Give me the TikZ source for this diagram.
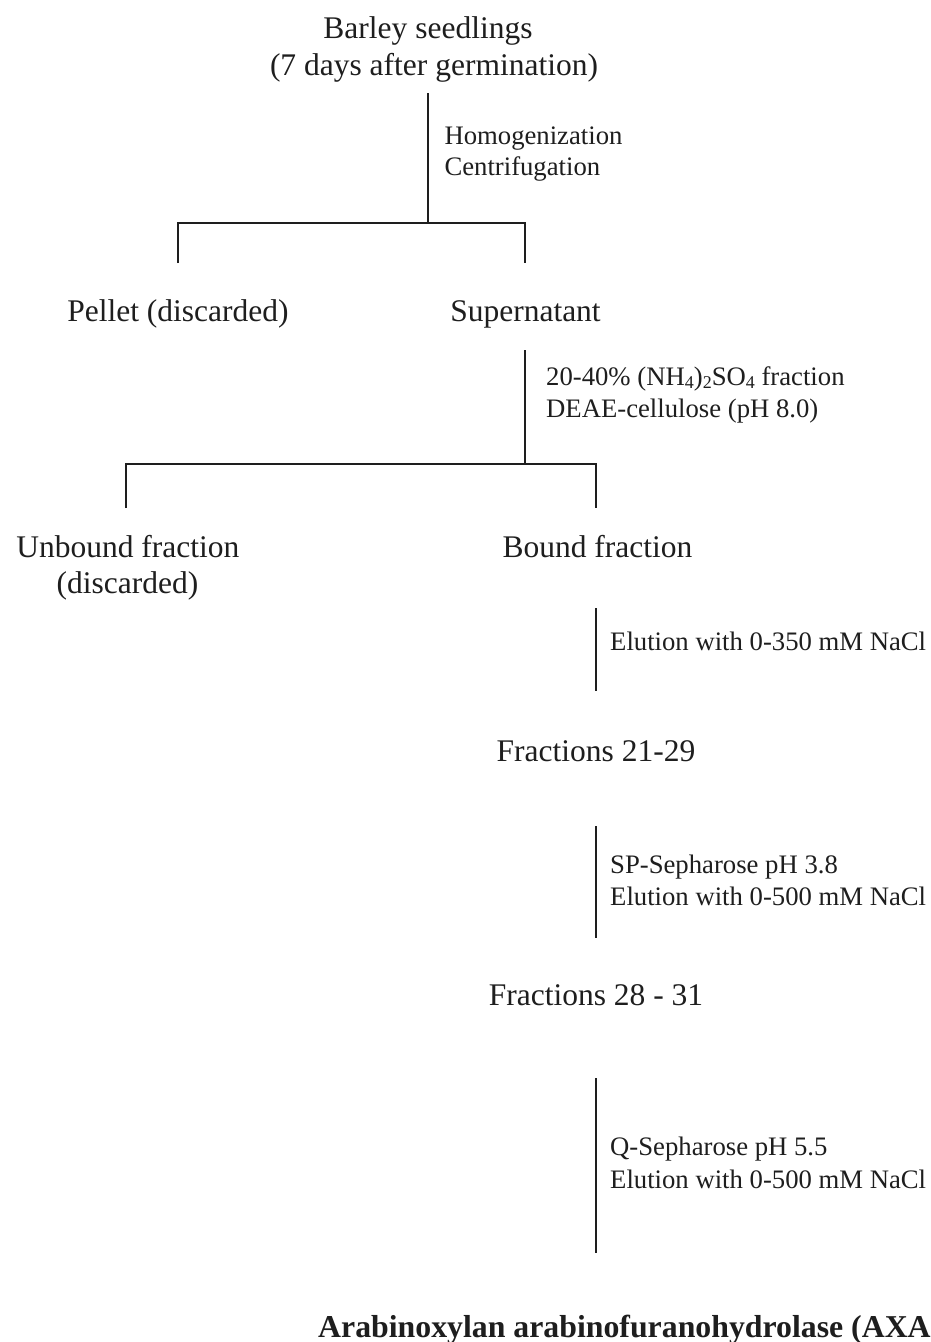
\documentclass[tikz,border=0pt]{standalone}
\usepackage{fontspec}
\setmainfont{Liberation Serif}
\definecolor{ink}{HTML}{1E1E1E}
\newcommand{\lowsub}[1]{\raisebox{-0.32ex}{\fontsize{18}{18}\selectfont #1}}
\tikzset{
  big/.style={font=\fontsize{31.5}{37}\selectfont, inner sep=0pt, anchor=base, text=ink},
  small/.style={font=\fontsize{26.7}{31.5}\selectfont, inner sep=0pt, anchor=base west, text=ink},
  title/.style={font=\fontsize{31.8}{37}\selectfont\bfseries, inner sep=0pt, anchor=base west, text=ink},
  link/.style={line width=2pt, draw=ink, line join=miter}
}
\begin{document}
\begin{tikzpicture}[x=1pt,y=-1pt]
\useasboundingbox (0,0) rectangle (930,1342);
\clip (0,0) rectangle (930,1342);
\fill[white] (0,0) rectangle (930,1342);

% top
\node[big] (barley) at (428,38.3) {Barley seedlings};
\node[big] (days) at (434,75) {(7 days after germination)};
\coordinate (t0) at (428,93);
\coordinate (b1) at (428,222.7);
\coordinate (b1l) at (178,222.7);
\coordinate (b1r) at (525,222.7);
\coordinate (d1l) at (178,263);
\coordinate (d1r) at (525,263);
\draw[link] (t0) -- (b1);
\draw[link] (d1l) -- (b1l) -- (b1r) -- (d1r);
\node[small] (homog) at (444.3,144) {Homogenization};
\node[small] (centr) at (444.3,175) {Centrifugation};

\node[big] (pellet) at (178,321.7) {Pellet (discarded)};
\node[big] (super) at (525.5,321.7) {Supernatant};

% second split
\coordinate (t1) at (525,350);
\coordinate (b2) at (525,464);
\coordinate (b2l) at (126.3,464);
\coordinate (b2r) at (595.5,464);
\coordinate (d2l) at (126.3,508);
\coordinate (d2r) at (595.5,508);
\draw[link] (t1) -- (b2);
\draw[link] (d2l) -- (b2l) -- (b2r) -- (d2r);
\node[small] (amm) at (546,385) {20-40\% (NH\lowsub{4})\lowsub{2}SO\lowsub{4} fraction};
\node[small] (deae) at (546,417.7) {DEAE-cellulose (pH 8.0)};

\node[big] (unb) at (127.8,557.3) {Unbound fraction};
\node[big] (disc) at (127.5,593.3) {(discarded)};
\node[big] (bound) at (597.5,557.3) {Bound fraction};

% elution 1
\coordinate (s1a) at (595.5,608);
\coordinate (s1b) at (595.5,691);
\draw[link] (s1a) -- (s1b);
\node[small] (el1) at (610,650.7) {Elution with 0-350 mM NaCl};
\node[big] (f1) at (596,761) {Fractions 21-29};

% SP-Sepharose
\coordinate (s2a) at (596,826);
\coordinate (s2b) at (596,938);
\draw[link] (s2a) -- (s2b);
\node[small] (sp) at (610,873) {SP-Sepharose pH 3.8};
\node[small] (el2) at (610,905) {Elution with 0-500 mM NaCl};
\node[big] (f2) at (596,1005) {Fractions 28 - 31};

% Q-Sepharose
\coordinate (s3a) at (596,1078);
\coordinate (s3b) at (596,1253);
\draw[link] (s3a) -- (s3b);
\node[small] (q) at (610,1155.7) {Q-Sepharose pH 5.5};
\node[small] (el3) at (610,1188) {Elution with 0-500 mM NaCl};

\node[title] (axah) at (318,1337) {Arabinoxylan arabinofuranohydrolase (AXA};
\end{tikzpicture}
\end{document}
